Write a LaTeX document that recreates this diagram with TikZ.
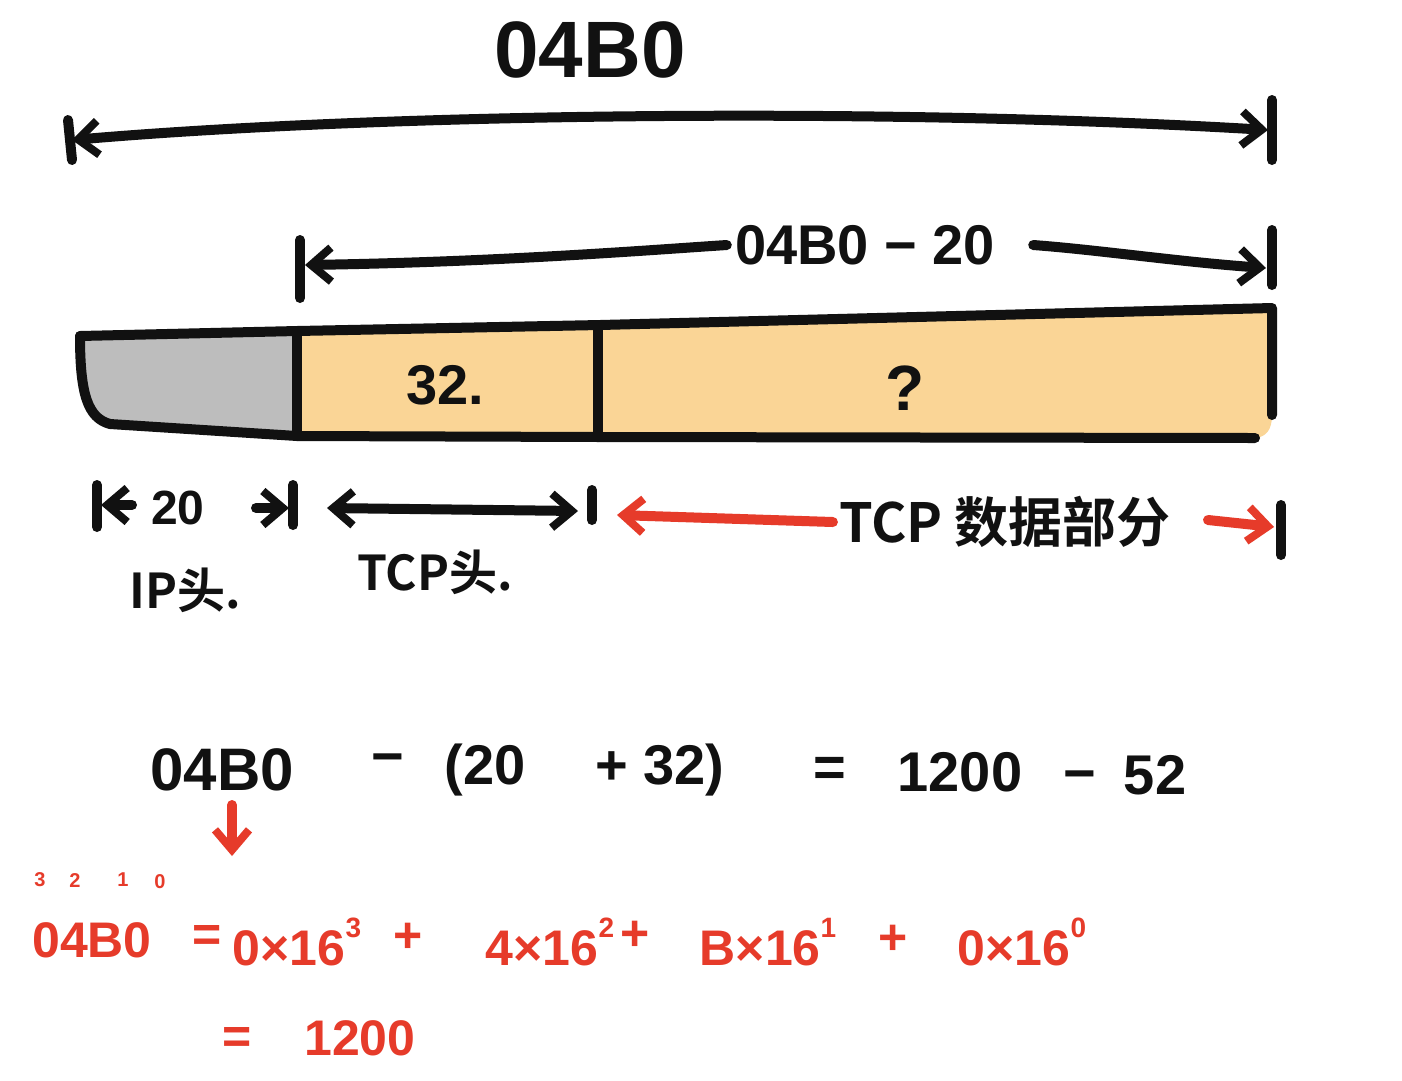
\documentclass[tikz,border=0pt]{standalone}
\usepackage{fontspec}
\setmainfont{Liberation Sans}
\newfontfamily\cjk{Noto Sans CJK SC}[BoldFont={Noto Sans CJK SC Bold}]
\usetikzlibrary{arrows.meta}
\definecolor{pen}{HTML}{111111}
\definecolor{redpen}{HTML}{E63B2A}
\definecolor{orangefill}{HTML}{FAD596}
\definecolor{greyfill}{HTML}{BDBDBD}
\newcommand{\myexp}[1]{\raisebox{0.55em}{\fontsize{28}{30}\selectfont #1}}
\begin{document}
\begin{tikzpicture}[x=1pt,y=-1pt,
  ink/.style={draw=pen, line width=10pt, line cap=round, line join=round},
  redink/.style={draw=redpen, line width=10pt, line cap=round, line join=round},
  barb/.style={-{Straight Barb[length=20pt,width=34pt,line width=8pt]}},
  dbarb/.style={{Straight Barb[length=20pt,width=34pt,line width=8pt]}-{Straight Barb[length=20pt,width=34pt,line width=8pt]}},
  lbarb/.style={{Straight Barb[length=20pt,width=34pt,line width=8pt]}-},
  big/.style={text=pen, font=\bfseries\fontsize{80}{84}\selectfont, inner sep=0pt},
  mid/.style={text=pen, font=\bfseries\fontsize{56}{60}\selectfont, inner sep=0pt},
  small/.style={text=pen, font=\bfseries\fontsize{48}{52}\selectfont, inner sep=0pt},
  red/.style={text=redpen, font=\bfseries\fontsize{50}{54}\selectfont, inner sep=0pt},
  tiny/.style={text=redpen, font=\bfseries\fontsize{20}{22}\selectfont, inner sep=0pt}]
\useasboundingbox[fill=white] (0,0) rectangle (1402,1080);

% ---- top total length ----
\node[big] (total) at (590,50) {04B0};
\coordinate (tL) at (72,140);
\coordinate (tR) at (1268,130);
\draw[ink, dbarb] (tL) .. controls (400,112) and (900,108) .. (tR);
\coordinate (tLa) at (68,120); \coordinate (tLb) at (72,160);
\coordinate (tRa) at (1272,100); \coordinate (tRb) at (1272,160);
\draw[ink] (tLa) -- (tLb);
\draw[ink] (tRa) -- (tRb);

% ---- second arrow ----
\node[mid, inner xsep=8pt] (len2) at (865,245) {04B0 − 20};
\coordinate (sL) at (305,265);
\coordinate (sR) at (1266,268);
\draw[ink, lbarb] (sL) .. controls (500,262) and (650,250) .. (len2.west);
\draw[ink, barb] ([xshift=30pt]len2.east) .. controls (1100,250) and (1180,262) .. (sR);
\coordinate (sLa) at (300,240); \coordinate (sLb) at (300,298);
\coordinate (sRa) at (1272,230); \coordinate (sRb) at (1272,285);
\draw[ink] (sLa) -- (sLb);
\draw[ink] (sRa) -- (sRb);

% ---- bar ----
\fill[greyfill] (297,331) -- (80,336) .. controls (80,395) and (88,418) .. (110,424) -- (297,436) -- cycle;
\fill[orangefill] (297,331) -- (600,325) -- (1272,308) -- (1272,415) .. controls (1272,430) and (1266,437) .. (1255,438) -- (600,437) -- (297,436) -- cycle;
\draw[ink] (80,336) -- (297,331) -- (600,325) -- (1272,308) -- (1272,415);
\draw[ink] (1255,438) -- (600,437) -- (297,436) -- (110,424) .. controls (88,418) and (80,395) .. (80,336);
\draw[ink] (297,331) -- (297,436);
\draw[ink] (598,326) -- (598,437);
\node[mid] (n32) at (445,385) {32.};
\node[mid, font=\bfseries\fontsize{64}{68}\selectfont] (nq) at (905,388) {?};

% ---- lower dimension row ----
\draw[ink] (97,485) -- (97,527);
\draw[ink, barb] (132,505) -- (101,505);
\node[small] (n20) at (178,508) {20};
\draw[ink, barb] (256,508) -- (289,508);
\draw[ink] (293,485) -- (293,525);
\draw[ink, dbarb] (327,508) -- (578,511);
\draw[ink] (592,490) -- (592,520);
\node[mid, font=\cjk\bfseries\fontsize{54}{58}\selectfont, inner xsep=6pt] (data) at (1005,522) {TCP 数据部分};
\draw[redink, barb] (data.west) -- (617,515);
\draw[redink, barb] (1208,520) -- (1274,527);
\draw[ink] (1281,505) -- (1281,555);
\node[small, font=\cjk\bfseries\fontsize{48}{52}\selectfont] (ip) at (185,590) {IP头.};
\node[small, font=\cjk\bfseries\fontsize{48}{52}\selectfont] (tcp) at (435,572) {TCP头.};

% ---- formula ----
\node[mid, font=\bfseries\fontsize{60}{64}\selectfont] (f1) at (222,770) {04B0};
\node[mid] (f2) at (388,765) {−};
\node[mid] (f3) at (485,770) {(20};
\node[mid] (f4) at (660,770) {+ 32)};
\node[mid] (f5) at (830,772) {=};
\node[mid] (f6) at (960,772) {1200};
\node[mid] (f7) at (1080,782) {−};
\node[mid] (f8) at (1155,775) {52};

\coordinate (dnA) at (232,805);
\coordinate (dn) at (232,856);
\draw[redink, barb] (dnA) -- (dn);

% ---- red hex conversion ----
\node[tiny] (p3) at (40,880) {3};
\node[tiny] (p2) at (75,880) {2};
\node[tiny] (p1) at (123,880) {1};
\node[tiny] (p0) at (160,882) {0};
\node[red] (r1) at (92,940) {04B0};
\node[red] (r2) at (207,938) {=};
\node[red] (r3) at (297,942) {0×16\myexp{3}};
\node[red] (r4) at (408,938) {+};
\node[red] (r5) at (550,942) {4×16\myexp{2}};
\node[red] (r6) at (635,936) {+};
\node[red] (r7) at (768,942) {B×16\myexp{1}};
\node[red] (r8) at (893,940) {+};
\node[red] (r9) at (1022,942) {0×16\myexp{0}};
\node[red] (r10) at (237,1040) {=};
\node[red] (r11) at (360,1038) {1200};
\end{tikzpicture}
\end{document}
